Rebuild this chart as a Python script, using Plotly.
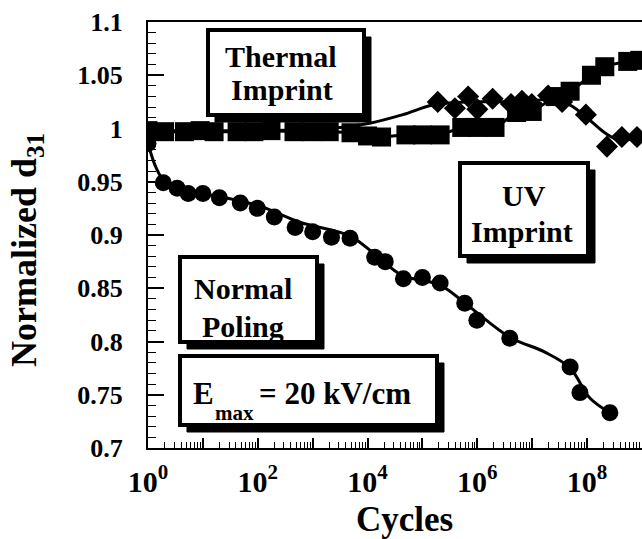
import plotly.graph_objects as go

# ---- data -------------------------------------------------------------
# Normal poling (circles)
poling_cycles = [1, 1.9, 3.4, 5.4, 10, 20, 48, 98, 200, 480, 1.0e3, 2.2e3, 4.8e3,
                 1.35e4, 2.1e4, 4.5e4, 1.0e5, 2.1e5, 5.9e5, 9.8e5, 3.9e6, 4.9e7,
                 7.4e7, 2.6e8]
poling_d31 = [0.986, 0.949, 0.944, 0.939, 0.939, 0.935, 0.930, 0.925, 0.917, 0.907,
              0.903, 0.898, 0.897, 0.879, 0.875, 0.859, 0.860, 0.855, 0.836, 0.820,
              0.803, 0.776, 0.752, 0.733]
# smooth trend line drawn through the poling data
poling_fit_cycles = [1, 1.41, 2.04, 4.68, 20.4, 110, 589, 4786, 1.35e4, 4.27e4,
                     2.09e5, 7.41e5, 3.89e6, 1.7e7, 4.9e7, 1.12e8, 2.63e8]
poling_fit_d31 = [0.986, 0.963, 0.950, 0.942, 0.936, 0.927, 0.912, 0.899, 0.882,
                  0.862, 0.853, 0.832, 0.804, 0.790, 0.775, 0.747, 0.733]

# Thermal imprint (squares)
thermal_cycles = [1, 2, 4.6, 8.9, 16, 42, 85, 174, 457, 933, 2.0e3, 5.0e3, 1.0e4,
                  1.8e4, 5.0e4, 1.0e5, 2.1e5, 5.2e5, 1.0e6, 2.1e6, 5.2e6, 1.0e7,
                  2.6e7, 4.9e7, 1.2e8, 2.1e8, 5.5e8, 9.1e8]
thermal_d31 = [0.998, 0.997, 0.997, 0.998, 0.997, 0.997, 0.997, 0.998, 0.997, 0.997,
               0.997, 0.996, 0.993, 0.992, 0.994, 0.994, 0.994, 1.001, 1.001, 1.001,
               1.015, 1.016, 1.030, 1.035, 1.050, 1.058, 1.063, 1.064]

# UV imprint (diamonds)
uv_cycles = [1.9e5, 3.9e5, 6.8e5, 1.0e6, 1.9e6, 4.1e6, 6.5e6, 9.8e6, 1.95e7, 3.5e7,
             9.5e7, 2.3e8, 4.3e8, 8.1e8]
uv_d31 = [1.025, 1.019, 1.030, 1.018, 1.028, 1.023, 1.026, 1.023, 1.031, 1.025,
          1.013, 0.983, 0.992, 0.992]
uv_fit_cycles = [1, 72, 2.1e3, 1.1e4, 4.4e4, 1.55e5, 7.4e5, 6.0e6, 2.1e7, 4.9e7,
                 1.0e8, 2.1e8, 4.0e8, 1.0e9]
uv_fit_d31 = [0.998, 0.998, 1.000, 1.005, 1.013, 1.022, 1.025, 1.025, 1.027, 1.022,
              1.010, 0.996, 0.989, 0.993]

y_tick_vals = [0.7, 0.75, 0.8, 0.85, 0.9, 0.95, 1.0, 1.05, 1.1]
y_tick_text = ["0.7", "0.75", "0.8", "0.85", "0.9", "0.95", "1", "1.05", "1.1"]
x_labelled = [0, 2, 4, 6, 8]
x_unlabelled = [1, 3, 5, 7, 9]

# ---- figure -----------------------------------------------------------
W, H = 642, 539
ML, MT, MB, MR = 148, 22, 91, 0
PW, PH = W - ML - MR, H - MT - MB
FONT = "Liberation Serif"

def fx(px):
    return (px - ML) / PW

def fy(py):
    return (MT + PH - py) / PH

fig = go.Figure()

# UV trend line sits on the overlay x axis (same log scale, carries odd-decade ticks)
fig.add_trace(go.Scatter(x=uv_fit_cycles, y=uv_fit_d31, mode="lines", xaxis="x2",
                         line=dict(color="black", width=3, shape="spline", smoothing=1.0),
                         hoverinfo="skip", showlegend=False))
fig.add_trace(go.Scatter(x=thermal_cycles, y=thermal_d31, mode="lines+markers",
                         line=dict(color="black", width=3, shape="spline", smoothing=0.6),
                         marker=dict(symbol="square", size=19, color="black"),
                         name="Thermal Imprint", showlegend=False))
fig.add_trace(go.Scatter(x=uv_cycles, y=uv_d31, mode="markers",
                         marker=dict(symbol="diamond", size=17, color="black"),
                         name="UV Imprint", showlegend=False))
fig.add_trace(go.Scatter(x=poling_fit_cycles, y=poling_fit_d31, mode="lines",
                         line=dict(color="black", width=3, shape="spline", smoothing=1.0),
                         hoverinfo="skip", showlegend=False))
fig.add_trace(go.Scatter(x=poling_cycles, y=poling_d31, mode="markers",
                         marker=dict(symbol="circle", size=17, color="black"),
                         name="Normal Poling", showlegend=False))

# ---- label boxes with drop shadow ----------------------------------------
boxes = [(208, 30, 364, 115), (460, 163, 588, 256), (180, 257, 317, 342), (180, 356, 437, 425)]
SH = 7
shapes = []
for (l, t, r, b) in boxes:
    path = (f"M {fx(l + SH)},{fy(t + SH)} L {fx(r + SH)},{fy(t + SH)} "
            f"L {fx(r + SH)},{fy(b + SH)} L {fx(l + SH)},{fy(b + SH)} Z")
    shapes.append(dict(type="path", xref="paper", yref="paper", path=path,
                       fillcolor="black", line=dict(color="black", width=1),
                       layer="above"))
    shapes.append(dict(type="rect", xref="paper", yref="paper",
                       x0=fx(l), x1=fx(r), y0=fy(b), y1=fy(t),
                       fillcolor="white", line=dict(color="black", width=4),
                       layer="above"))

def label(text, x, y, size=30, xanchor="center", angle=0):
    return dict(text=text, x=fx(x), y=fy(y), xref="paper", yref="paper",
                xanchor=xanchor, yanchor="middle", showarrow=False, textangle=angle,
                font=dict(family=FONT, size=size, color="black", weight="bold"))

annotations = [
    label("Thermal", 281, 57), label("Imprint", 282, 90),
    label("UV", 524, 195), label("Imprint", 522, 231),
    label("Normal", 243, 288), label("Poling", 243, 326),
    label("E", 191, 393, size=31, xanchor="left"),
    label("max", 213, 413, size=21, xanchor="left"),
    label("= 20 kV/cm", 257, 393, size=31, xanchor="left"),
    label("Cycles", 404, 519, size=35),
    label("Normalized d<sub>31</sub>", 27, 250, size=36, angle=-90),
]

fig.update_layout(
    width=W, height=H,
    margin=dict(l=ML, r=MR, t=MT, b=MB, pad=0),
    paper_bgcolor="white", plot_bgcolor="white",
    shapes=shapes, annotations=annotations,
    font=dict(family=FONT, color="black"),
    xaxis2=dict(type="log", range=[0, 9], overlaying="x", side="bottom",
                anchor="y", showgrid=False, zeroline=False, showline=False,
                tickmode="array", tickvals=[10 ** d for d in x_unlabelled],
                showticklabels=False, ticks="inside", ticklen=10, tickwidth=1.5,
                tickcolor="black"),
)

fig.update_xaxes(
    selector=dict(overlaying=None),
)
fig.layout.xaxis.update(
    type="log", range=[0, 9], showgrid=False, zeroline=False,
    showline=True, linecolor="black", linewidth=2, mirror=True,
    tickmode="array",
    tickvals=[10 ** d for d in x_labelled],
    ticktext=[f"10<sup>{d}</sup>" for d in x_labelled],
    ticks="inside", ticklen=10, tickwidth=1.5, tickcolor="black",
    tickfont=dict(family=FONT, size=30, color="black", weight="bold"),
    ticklabelstandoff=6,
    minor=dict(tickmode="array",
               tickvals=[k * 10 ** d for d in range(0, 9) for k in range(2, 10)],
               ticks="inside", ticklen=6, tickwidth=1, tickcolor="black"),
)
fig.update_yaxes(
    range=[0.7, 1.1], showgrid=False, zeroline=False,
    showline=True, linecolor="black", linewidth=2, mirror=False,
    tickmode="array", tickvals=y_tick_vals, ticktext=y_tick_text,
    ticks="inside", ticklen=16, tickwidth=1.5, tickcolor="black",
    tickfont=dict(family=FONT, size=26, color="black", weight="bold"),
    ticklabelstandoff=18,
    minor=dict(dtick=0.01, tick0=0.7, ticks="inside", ticklen=8, tickwidth=1,
               tickcolor="black"),
)

fig.write_html("out.html")
